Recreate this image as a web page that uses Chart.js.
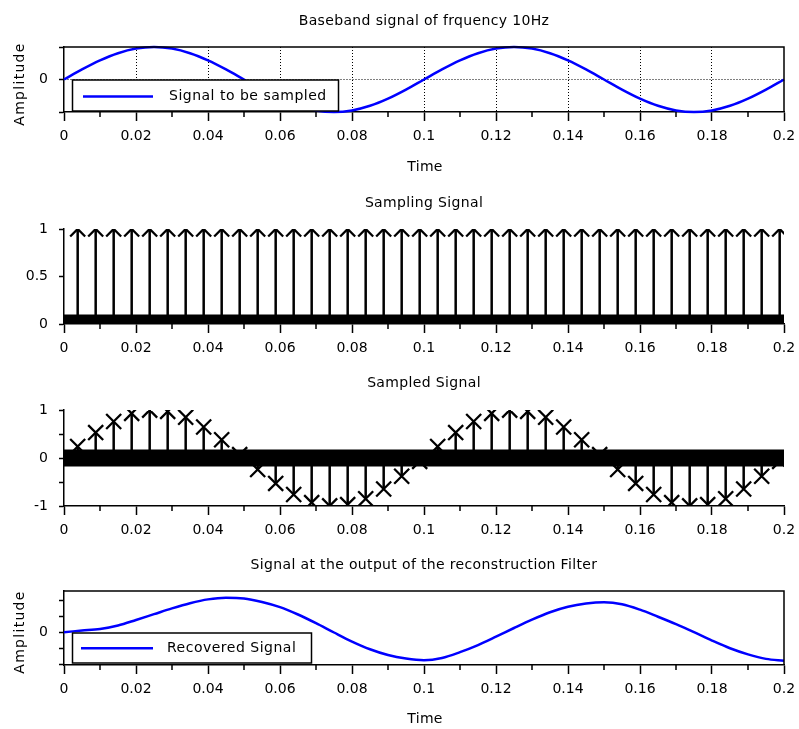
<!DOCTYPE html>
<html><head><meta charset="utf-8">
<script src="https://cdn.jsdelivr.net/npm/chart.js@4.4.1/dist/chart.umd.min.js"></script>
<style>
html,body{margin:0;padding:0;background:#fff;}
#wrap{position:relative;width:799px;height:729px;background:#fff;}
canvas{position:absolute;left:0;top:0;}
</style></head><body>
<div id="wrap">
<canvas id="c1" width="799" height="729"></canvas>
<canvas id="c2" width="799" height="729"></canvas>
<canvas id="c3" width="799" height="729"></canvas>
<canvas id="c4" width="799" height="729"></canvas>
</div>
<script>
// ---------------- data ----------------
const tFine = [0,0.005,0.01,0.015,0.02,0.025,0.03,0.035,0.04,0.045,0.05,0.055,0.06,0.065,0.07,0.075,0.08,0.085,0.09,0.095,0.1,0.105,0.11,0.115,0.12,0.125,0.13,0.135,0.14,0.145,0.15,0.155,0.16,0.165,0.17,0.175,0.18,0.185,0.19,0.195,0.2];
const basebandSignal = [0,0.309,0.588,0.809,0.951,1,0.951,0.809,0.588,0.309,0,-0.309,-0.588,-0.809,-0.951,-1,-0.951,-0.809,-0.588,-0.309,0,0.309,0.588,0.809,0.951,1,0.951,0.809,0.588,0.309,0,-0.309,-0.588,-0.809,-0.951,-1,-0.951,-0.809,-0.588,-0.309,0];
const sampleTimes = [0.0038,0.0088,0.0138,0.0188,0.0238,0.0288,0.0338,0.0388,0.0438,0.0488,0.0538,0.0588,0.0638,0.0688,0.0738,0.0788,0.0838,0.0888,0.0938,0.0988,0.1038,0.1088,0.1138,0.1188,0.1238,0.1288,0.1338,0.1388,0.1438,0.1488,0.1538,0.1588,0.1638,0.1688,0.1738,0.1788,0.1838,0.1888,0.1938,0.1988];
const samplingPulse = [1,1,1,1,1,1,1,1,1,1,1,1,1,1,1,1,1,1,1,1,1,1,1,1,1,1,1,1,1,1,1,1,1,1,1,1,1,1,1,1];
const sampledValues = [0.24,0.53,0.76,0.93,0.998,0.97,0.85,0.645,0.38,0.07,-0.24,-0.53,-0.76,-0.93,-0.998,-0.97,-0.85,-0.645,-0.38,-0.07,0.24,0.53,0.76,0.93,0.998,0.97,0.85,0.645,0.38,0.07,-0.24,-0.53,-0.76,-0.93,-0.998,-0.97,-0.85,-0.645,-0.38,-0.07];
const zeroLineX = [0,0.2];
const recoveredSignal = [0,0.05,0.10,0.21,0.38,0.56,0.74,0.90,1.02,1.07,1.05,0.94,0.78,0.55,0.28,-0.01,-0.29,-0.53,-0.71,-0.82,-0.87,-0.80,-0.62,-0.40,-0.14,0.13,0.39,0.62,0.79,0.89,0.93,0.87,0.70,0.48,0.25,0.00,-0.26,-0.50,-0.69,-0.83,-0.89];
const xTickValues = [0,0.02,0.04,0.06,0.08,0.1,0.12,0.14,0.16,0.18,0.2];
const xTickLabels = ['0','0.02','0.04','0.06','0.08','0.1','0.12','0.14','0.16','0.18','0.2'];
const xMinorTicks = [0.01,0.03,0.05,0.07,0.09,0.11,0.13,0.15,0.17,0.19];
const y1Ticks = [-1,0,1];           const y1Labels = ['','0',''];
const y2Ticks = [0,0.5,1];          const y2Labels = ['0','0.5','1'];
const y3Ticks = [-1,-0.5,0,0.5,1];  const y3Labels = ['-1','','0','','1'];
const y4Ticks = [-1,-0.5,0,0.5,1];  const y4Labels = ['','','0','',''];
const titles = ['Baseband signal of frquency 10Hz','Sampling Signal','Sampled Signal','Signal at the output of the reconstruction Filter'];
const seriesNames = ['Signal to be sampled','Recovered Signal'];
const xAxisTitle = 'Time';
const yAxisTitle = 'Amplitude';

// ---------------- helpers ----------------
const FONT = '"DejaVu Sans", sans-serif';
const pts = (xs, ys) => xs.map((x, i) => ({x: x, y: ys[i]}));
function stemPts(xs, ys) {
  const out = [];
  xs.forEach((x, i) => { out.push({x: x, y: 0}); out.push({x: x, y: ys[i]}); out.push({x: x, y: null}); });
  return out;
}
const CLEAR = 'rgba(0,0,0,0)';

function decor(cfg) {
  return {
    id: 'decor',
    afterDatasetsDraw(chart) {
      const ctx = chart.ctx, a = chart.chartArea, xs = chart.scales.x;
      ctx.save();
      ctx.strokeStyle = '#000';
      ctx.lineWidth = 1.5;
      ctx.beginPath();
      xMinorTicks.forEach(v => { const px = xs.getPixelForValue(v); ctx.moveTo(px, a.bottom); ctx.lineTo(px, a.bottom + 5); });
      ctx.stroke();
      if (cfg.frame) {
        ctx.beginPath();
        ctx.moveTo(a.left, a.top); ctx.lineTo(a.right, a.top); ctx.lineTo(a.right, a.bottom);
        ctx.stroke();
      }
      if (cfg.legend) {
        const L = cfg.legend;
        ctx.fillStyle = '#fff';
        ctx.fillRect(L.x, L.y, L.w, L.h);
        ctx.lineWidth = 1.5;
        ctx.strokeStyle = '#000';
        ctx.strokeRect(L.x, L.y, L.w, L.h);
        ctx.strokeStyle = '#0000ff';
        ctx.lineWidth = 2.5;
        ctx.beginPath(); ctx.moveTo(L.lx0, L.ly); ctx.lineTo(L.lx1, L.ly); ctx.stroke();
        ctx.fillStyle = '#000';
        ctx.font = '14px ' + FONT;
        ctx.letterSpacing = '0.5px';
        ctx.textAlign = 'left'; ctx.textBaseline = 'middle';
        ctx.fillText(L.text, L.tx, L.ly);
      }
      ctx.fillStyle = '#000';
      ctx.font = '14px ' + FONT;
      ctx.letterSpacing = '0.35px';
      ctx.textAlign = 'center'; ctx.textBaseline = 'middle';
      ctx.fillText(cfg.title, (a.left + a.right) / 2, cfg.titleY);
      if (cfg.timeY) {
        ctx.letterSpacing = '0.3px';
        ctx.fillText(xAxisTitle, (a.left + a.right) / 2 + 1, cfg.timeY);
      }
      if (cfg.ampY) {
        ctx.save();
        ctx.letterSpacing = '1.3px';
        ctx.translate(20, cfg.ampY);
        ctx.rotate(-Math.PI / 2);
        ctx.fillText(yAxisTitle, 0, 0);
        ctx.restore();
      }
      ctx.restore();
    }
  };
}

function makeChart(id, cfg) {
  return new Chart(document.getElementById(id), {
    type: 'line',
    data: { datasets: cfg.datasets },
    options: {
      responsive: false, animation: false, events: [],
      layout: { padding: { left: 0, right: 799 - 784, top: cfg.top, bottom: 729 - cfg.bottom - 40 } },
      plugins: { legend: { display: false }, tooltip: { enabled: false }, title: { display: false } },
      scales: {
        x: {
          type: 'linear', min: 0, max: 0.2,
          afterBuildTicks: s => { s.ticks = xTickValues.map(v => ({ value: v })); },
          afterFit: s => { s.height = 40; s.paddingLeft = 0; s.paddingRight = 0; },
          ticks: { callback: (v, i) => xTickLabels[i], autoSkip: false, maxRotation: 0, padding: 7, color: '#000', font: { family: FONT, size: 14 } },
          grid: {
            drawOnChartArea: !!cfg.grid,
            color: c => (c.tick && c.tick.value > 0.001 && c.tick.value < 0.199) ? '#000' : CLEAR,
            lineWidth: 1, tickLength: 9, tickWidth: 1.5, tickColor: '#000'
          },
          border: { display: true, color: '#000', width: 1.5, dash: [1, 2] }
        },
        y: {
          type: 'linear', min: cfg.ymin, max: cfg.ymax,
          afterBuildTicks: s => { s.ticks = cfg.yTicks.map(v => ({ value: v })); },
          afterFit: s => { s.width = 64; s.paddingTop = 0; s.paddingBottom = 0; },
          ticks: { callback: (v, i) => cfg.yLabels[i], autoSkip: false, padding: 11, color: '#000', font: { family: FONT, size: 14 } },
          grid: {
            drawOnChartArea: !!cfg.grid,
            color: c => (c.tick && c.tick.value === 0) ? '#000' : CLEAR,
            lineWidth: 1, tickLength: 5, tickWidth: 1.5, tickColor: '#000'
          },
          border: { display: true, color: '#000', width: 1.5, dash: [1, 2] }
        }
      }
    },
    plugins: [decor(cfg)]
  });
}

function stemDatasets(values, bandWidth) {
  return [
    { data: pts(sampleTimes, values), showLine: false, pointStyle: 'crossRot', pointRadius: 10.6,
      pointBorderColor: '#000', pointBackgroundColor: '#000', pointBorderWidth: 2.3, clip: 0 },
    { data: stemPts(sampleTimes, values), borderColor: '#000', borderWidth: 2.5, pointRadius: 0, spanGaps: false, clip: 0 },
    { data: pts(zeroLineX, [0, 0]), borderColor: '#000', borderWidth: bandWidth, pointRadius: 0, clip: 0, borderCapStyle: 'butt' }
  ];
}

makeChart('c1', {
  top: 47, bottom: 112, ymin: -1, ymax: 1, yTicks: y1Ticks, yLabels: y1Labels, grid: true, frame: true,
  title: titles[0], titleY: 21, timeY: 167.5, ampY: 84,
  legend: { x: 72.5, y: 80, w: 266, h: 31, lx0: 83, lx1: 153, ly: 96.5, tx: 169, text: seriesNames[0] },
  datasets: [{ data: pts(tFine, basebandSignal), borderColor: '#0000ff', borderWidth: 2.5, pointRadius: 0,
               cubicInterpolationMode: 'monotone', clip: 2 }]
});
makeChart('c2', {
  top: 229, bottom: 324, ymin: 0, ymax: 1, yTicks: y2Ticks, yLabels: y2Labels,
  title: titles[1], titleY: 203,
  datasets: stemDatasets(samplingPulse, 19)
});
makeChart('c3', {
  top: 410, bottom: 506, ymin: -1, ymax: 1, yTicks: y3Ticks, yLabels: y3Labels,
  title: titles[2], titleY: 383,
  datasets: stemDatasets(sampledValues, 17)
});
makeChart('c4', {
  top: 591, bottom: 665, ymin: -1.02, ymax: 1.28, yTicks: y4Ticks, yLabels: y4Labels, frame: true,
  title: titles[3], titleY: 565, timeY: 719, ampY: 632,
  legend: { x: 72.5, y: 633, w: 239, h: 30, lx0: 81, lx1: 153, ly: 648.3, tx: 167, text: seriesNames[1] },
  datasets: [{ data: pts(tFine, recoveredSignal), borderColor: '#0000ff', borderWidth: 2.5, pointRadius: 0,
               cubicInterpolationMode: 'monotone', clip: 2 }]
});
</script>
</body></html>
